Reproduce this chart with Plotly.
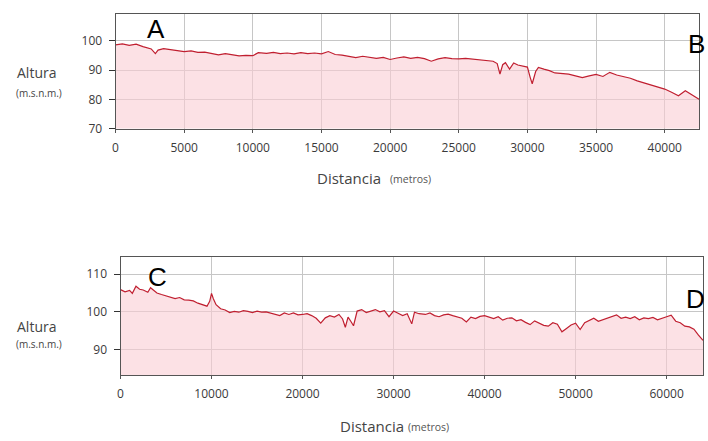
import plotly.graph_objects as go

W, H = 708, 441

# Perfil A-B: distancia (m) y altura (m.s.n.m.)
dist_ab = [0, 500, 1000, 1500, 2000, 2300, 2600, 2900, 3100, 3500, 4000, 4500, 5000, 5500,
           6000, 6500, 7000, 7500, 8000, 8500, 9000, 9500, 10000, 10400, 11000, 11500, 12000,
           12500, 13000, 13500, 14000, 14500, 15000, 15500, 16000, 16500, 17000, 17500, 18000,
           18500, 19000, 19500, 20000, 20500, 21000, 21500, 22000, 22500, 23000, 23500, 24000,
           24500, 25000, 25500, 26000, 26500, 27000, 27500, 27800, 28000, 28200, 28400, 28700,
           29000, 29300, 29600, 30000, 30200, 30350, 30600, 30800, 31200, 31600, 32000, 32500,
           33000, 33500, 34000, 34500, 35000, 35500, 36000, 36500, 37000, 37500, 38000, 38500,
           39000, 39500, 40000, 40500, 41000, 41500, 42000, 42500]
alt_ab = [98.6, 98.9, 98.4, 98.8, 98.0, 97.6, 97.2, 95.6, 96.8, 97.3, 96.9, 96.6, 96.3, 96.5,
          96.0, 96.1, 95.6, 95.2, 95.6, 95.1, 94.8, 95.0, 94.9, 95.9, 95.7, 96.0, 95.6,
          95.8, 95.5, 95.9, 95.6, 95.8, 95.5, 96.3, 95.3, 95.1, 94.7, 94.2, 94.7,
          94.4, 94.0, 94.3, 93.6, 94.1, 94.5, 94.0, 94.3, 93.9, 93.0, 93.8, 94.2,
          93.9, 93.8, 94.0, 93.7, 93.6, 93.3, 93.0, 92.2, 88.6, 91.8, 92.5, 90.3,
          92.4, 91.7, 91.4, 91.0, 87.5, 85.3, 89.5, 90.9, 90.3, 89.8, 89.0, 88.9,
          88.6, 88.0, 87.4, 88.0, 88.5, 87.8, 89.2, 88.3, 87.7, 87.2, 86.3, 85.6,
          84.8, 84.2, 83.5, 82.4, 81.2, 82.9, 81.5, 80.0]

# Perfil C-D
dist_cd = [0, 500, 1000, 1300, 1700, 2100, 2500, 3000, 3300, 3700, 4000, 4500, 5000, 5500,
           6000, 6500, 7000, 7500, 8000, 8500, 9000, 9500, 9800, 10000, 10200, 10500, 11000,
           11500, 12000, 12500, 13000, 13500, 14000, 14500, 15000, 15500, 16000, 16500, 17000,
           17500, 18000, 18500, 19000, 19500, 20000, 20500, 21000, 21500, 22000, 22500, 23000,
           23500, 24000, 24400, 24700, 25000, 25300, 25600, 26000, 26500, 27000, 27500, 28000,
           28500, 29000, 29500, 30000, 30500, 31000, 31500, 32000, 32300, 32800, 33500, 34000,
           34500, 35000, 35500, 36000, 36500, 37000, 37500, 38000, 38500, 39000, 39500, 40000,
           40500, 41000, 41500, 42000, 42500, 43000, 43500, 44000, 44500, 45000, 45500, 46000,
           46500, 47000, 47500, 48000, 48500, 49000, 49500, 50000, 50500, 51000, 51500, 52000,
           52500, 53000, 53500, 54000, 54500, 55000, 55500, 56000, 56500, 57000, 57500, 58000,
           58500, 59000, 59500, 60000, 60500, 61000, 61500, 62000, 62500, 63000, 63500, 64000]
alt_cd = [105.9, 105.3, 105.7, 104.9, 106.8, 106.0, 105.8, 105.2, 106.4, 105.5, 105.0, 104.6,
          104.2, 103.8, 103.5, 103.8, 103.2, 103.1, 102.9, 102.3, 102.0, 101.5, 102.8, 104.9,
          103.5, 101.9, 100.8, 100.5, 99.8, 100.1, 99.9, 100.3, 100.1, 99.8, 100.2, 99.9,
          100.0, 99.6, 99.4, 99.0, 99.7, 99.3, 99.7, 99.2, 99.3, 99.5, 99.0, 98.3, 97.0,
          98.4, 99.0, 98.6, 99.3, 98.1, 95.9, 98.6, 97.5, 96.3, 100.2, 100.6, 99.8, 100.2,
          100.6, 100.0, 100.3, 98.7, 100.2, 99.6, 99.0, 99.5, 96.8, 99.9, 99.5, 99.3, 99.7,
          99.0, 98.7, 99.2, 99.4, 99.0, 98.6, 98.3, 97.3, 98.6, 98.2, 98.8, 99.0,
          98.5, 98.2, 98.7, 97.8, 98.3, 98.4, 97.6, 97.9, 97.2, 96.6, 97.6, 97.0,
          96.4, 96.2, 97.1, 96.7, 94.7, 95.6, 96.5, 97.0, 95.3, 97.1, 97.7, 98.3,
          97.5, 97.9, 98.5, 98.7, 99.2, 98.3, 98.6, 98.2, 98.7, 97.9, 98.4, 98.2,
          98.5, 97.9, 98.4, 98.7, 99.1, 97.5, 97.1, 96.2, 96.0, 95.4, 93.8, 92.4]

ticks_x_ab = [0, 5000, 10000, 15000, 20000, 25000, 30000, 35000, 40000]
ticks_y_ab = [70, 80, 90, 100]
ticks_x_cd = [0, 10000, 20000, 30000, 40000, 50000, 60000]
ticks_y_cd = [90, 100, 110]

LINE = "#c01f30"
FILL = "rgba(250, 205, 212, 0.6)"
TICKFONT = dict(family="Open Sans", size=12, color="#3a3a3a")
GRID = "#c6c6c6"
AXIS = "#555555"


def px(x):
    return x / W


def py(y):
    return 1 - y / H


fig = go.Figure()
fig.add_trace(go.Scatter(x=dist_ab, y=alt_ab, mode="lines", fill="tozeroy",
                         fillcolor=FILL, line=dict(color=LINE, width=1.2),
                         xaxis="x", yaxis="y", showlegend=False))
fig.add_trace(go.Scatter(x=dist_cd, y=alt_cd, mode="lines", fill="tozeroy",
                         fillcolor=FILL, line=dict(color=LINE, width=1.2),
                         xaxis="x2", yaxis="y2", showlegend=False))

common_x = dict(showgrid=True, gridcolor=GRID, gridwidth=1, showline=True, linecolor=AXIS,
                linewidth=1, mirror=True, ticks="outside", ticklen=3, tickcolor=AXIS,
                tickfont=TICKFONT, zeroline=False, tickformat="d", ticklabelstandoff=5)
common_y = dict(showgrid=True, gridcolor=GRID, gridwidth=1, showline=True, linecolor=AXIS,
                linewidth=1, mirror=True, ticks="outside", ticklen=6, tickcolor="#333333",
                tickfont=TICKFONT, zeroline=False, ticklabelstandoff=4)

fig.update_layout(
    width=W, height=H,
    margin=dict(l=0, r=0, t=0, b=0),
    paper_bgcolor="white", plot_bgcolor="white",
    xaxis=dict(domain=[px(113), px(699)], range=[0, 42500], tickvals=ticks_x_ab,
               anchor="y", **common_x),
    yaxis=dict(domain=[py(131), py(14)], range=[70, 109.2], tickvals=ticks_y_ab,
               anchor="x", **common_y),
    xaxis2=dict(domain=[px(118), px(703)], range=[0, 64000], tickvals=ticks_x_cd,
                anchor="y2", **common_x),
    yaxis2=dict(domain=[py(382), py(262)], range=[83.2, 114.5], tickvals=ticks_y_cd,
                anchor="x2", **common_y),
)

ann = []


def label(text, x, y, size, color="#444444", xanchor="left", family="Open Sans"):
    ann.append(dict(text=text, x=px(x), y=py(y), xref="paper", yref="paper",
                    xanchor=xanchor, yanchor="middle", showarrow=False,
                    font=dict(family=family, size=size, color=color)))


# Títulos de ejes
label("Altura", 12, 74, 14)
label("(m.s.n.m.)", 11, 95, 10)
label("Altura", 12, 333, 14)
label("(m.s.n.m.)", 11, 350, 10)
label("Distancia", 313, 181, 15)
label("(metros)", 387, 182, 10.5, color="#555555")
label("Distancia", 336, 434, 15)
label("(metros)", 405, 435, 10.5, color="#555555")

# Puntos extremos de cada perfil
label("A", 154, 30, 26, color="#000000", xanchor="center", family="Liberation Sans")
label("B", 707, 45, 26, color="#000000", xanchor="right", family="Liberation Sans")
label("C", 155, 282, 26, color="#000000", xanchor="center", family="Liberation Sans")
label("D", 707, 305, 26, color="#000000", xanchor="right", family="Liberation Sans")

fig.update_layout(annotations=ann)

fig.write_html("out.html")
